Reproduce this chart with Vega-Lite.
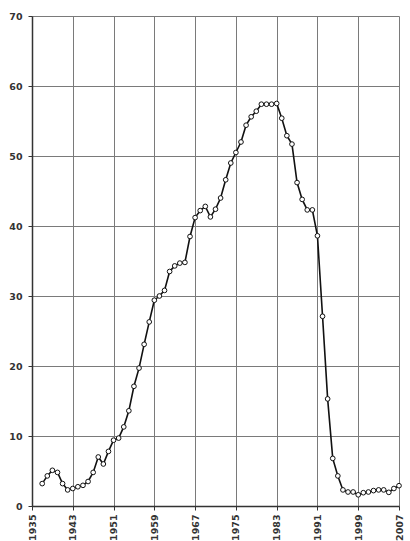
{
  "$schema": "https://vega.github.io/schema/vega-lite/v6.json",
  "autosize": {"type": "none"},
  "padding": {"left": 32, "top": 16, "right": 11, "bottom": 35},
  "width": 367,
  "height": 490,
  "background": "white",
  "data": {"values": [
    {"year": 1937, "value": 3.2}, {"year": 1938, "value": 4.3}, {"year": 1939, "value": 5.1},
    {"year": 1940, "value": 4.8}, {"year": 1941, "value": 3.2}, {"year": 1942, "value": 2.3},
    {"year": 1943, "value": 2.5}, {"year": 1944, "value": 2.75}, {"year": 1945, "value": 2.95},
    {"year": 1946, "value": 3.5}, {"year": 1947, "value": 4.8}, {"year": 1948, "value": 7.0},
    {"year": 1949, "value": 6.0}, {"year": 1950, "value": 7.8}, {"year": 1951, "value": 9.4},
    {"year": 1952, "value": 9.7}, {"year": 1953, "value": 11.3}, {"year": 1954, "value": 13.6},
    {"year": 1955, "value": 17.1}, {"year": 1956, "value": 19.7}, {"year": 1957, "value": 23.1},
    {"year": 1958, "value": 26.3}, {"year": 1959, "value": 29.4}, {"year": 1960, "value": 30.0},
    {"year": 1961, "value": 30.8}, {"year": 1962, "value": 33.5}, {"year": 1963, "value": 34.3},
    {"year": 1964, "value": 34.7}, {"year": 1965, "value": 34.8}, {"year": 1966, "value": 38.5},
    {"year": 1967, "value": 41.2}, {"year": 1968, "value": 42.2}, {"year": 1969, "value": 42.8},
    {"year": 1970, "value": 41.3}, {"year": 1971, "value": 42.4}, {"year": 1972, "value": 44.0},
    {"year": 1973, "value": 46.6}, {"year": 1974, "value": 49.0}, {"year": 1975, "value": 50.5},
    {"year": 1976, "value": 52.0}, {"year": 1977, "value": 54.4}, {"year": 1978, "value": 55.6},
    {"year": 1979, "value": 56.4}, {"year": 1980, "value": 57.4}, {"year": 1981, "value": 57.4},
    {"year": 1982, "value": 57.4}, {"year": 1983, "value": 57.5}, {"year": 1984, "value": 55.4},
    {"year": 1985, "value": 52.9}, {"year": 1986, "value": 51.7}, {"year": 1987, "value": 46.2},
    {"year": 1988, "value": 43.8}, {"year": 1989, "value": 42.3}, {"year": 1990, "value": 42.3},
    {"year": 1991, "value": 38.6}, {"year": 1992, "value": 27.1}, {"year": 1993, "value": 15.3},
    {"year": 1994, "value": 6.8}, {"year": 1995, "value": 4.3}, {"year": 1996, "value": 2.3},
    {"year": 1997, "value": 2.0}, {"year": 1998, "value": 2.0}, {"year": 1999, "value": 1.6},
    {"year": 2000, "value": 1.9}, {"year": 2001, "value": 2.0}, {"year": 2002, "value": 2.2},
    {"year": 2003, "value": 2.3}, {"year": 2004, "value": 2.3}, {"year": 2005, "value": 1.95},
    {"year": 2006, "value": 2.5}, {"year": 2007, "value": 2.9}
  ]},
  "config": {
    "view": {"stroke": null},
    "axis": {
      "labelFont": "DejaVu Sans",
      "labelFontSize": 9.5,
      "labelFontWeight": "bold",
      "labelColor": "#333333",
      "gridColor": "#7a7a7a",
      "gridOpacity": 1,
      "gridWidth": 1,
      "domainColor": "#333333",
      "domainWidth": 1.5,
      "tickColor": "#333333",
      "tickSize": 4,
      "title": null
    }
  },
  "encoding": {
    "x": {
      "field": "year", "type": "quantitative",
      "scale": {"domain": [1935, 2007], "nice": false, "zero": false},
      "axis": {"values": [1935, 1943, 1951, 1959, 1967, 1975, 1983, 1991, 1999, 2007],
               "format": "d", "labelAngle": -90, "labelPadding": 4, "labelFontSize": 9.5,
               "labelFlush": false, "labelOverlap": false}
    },
    "y": {
      "field": "value", "type": "quantitative",
      "scale": {"domain": [0, 70], "nice": false},
      "axis": {"values": [0, 10, 20, 30, 40, 50, 60, 70], "labelPadding": 6, "labelFlush": false}
    }
  },
  "layer": [
    {"mark": {"type": "line", "color": "#111111", "strokeWidth": 1.6}},
    {"mark": {"type": "point", "filled": true, "fill": "white", "stroke": "#111111", "strokeWidth": 1, "size": 22, "opacity": 1}}
  ]
}
